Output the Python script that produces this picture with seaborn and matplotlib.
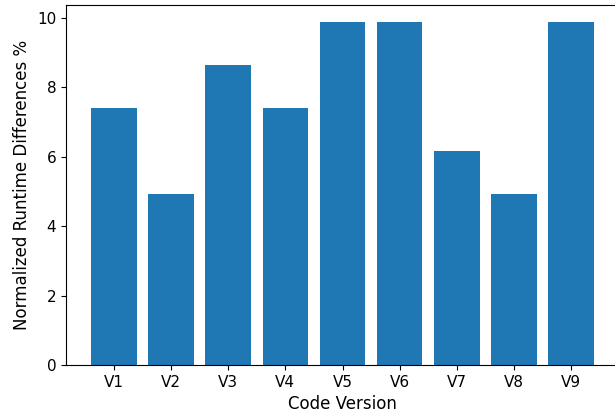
import matplotlib
matplotlib.use("Agg")
import matplotlib.pyplot as plt
import seaborn as sns
import pandas as pd

# --- data ---
versions = ["V1", "V2", "V3", "V4", "V5", "V6", "V7", "V8", "V9"]
runtime_diff = [7.41, 4.94, 8.64, 7.41, 9.88, 9.88, 6.17, 4.94, 9.88]

df = pd.DataFrame({"version": versions, "diff": runtime_diff})

fig = plt.figure(figsize=(6.15, 4.18), dpi=100)
# axes runs slightly past the right edge, as in the reference crop
ax = fig.add_axes([66 / 615, 53 / 418, 553 / 615, 360 / 418])

sns.barplot(data=df, x="version", y="diff", color="#1f77b4",
            saturation=1, width=0.8, ax=ax, errorbar=None)

n = len(versions)
pad = 0.05 * (n - 1 + 0.8)
ax.set_xlim(-0.4 - pad, n - 1 + 0.4 + pad)
ax.set_ylim(0, max(runtime_diff) * 1.05)

ax.set_xlabel("Code Version", fontsize=12)
ax.set_ylabel("Normalized Runtime Differences %", fontsize=12)
ax.tick_params(labelsize=11)

fig.savefig("out.png", dpi=100)
